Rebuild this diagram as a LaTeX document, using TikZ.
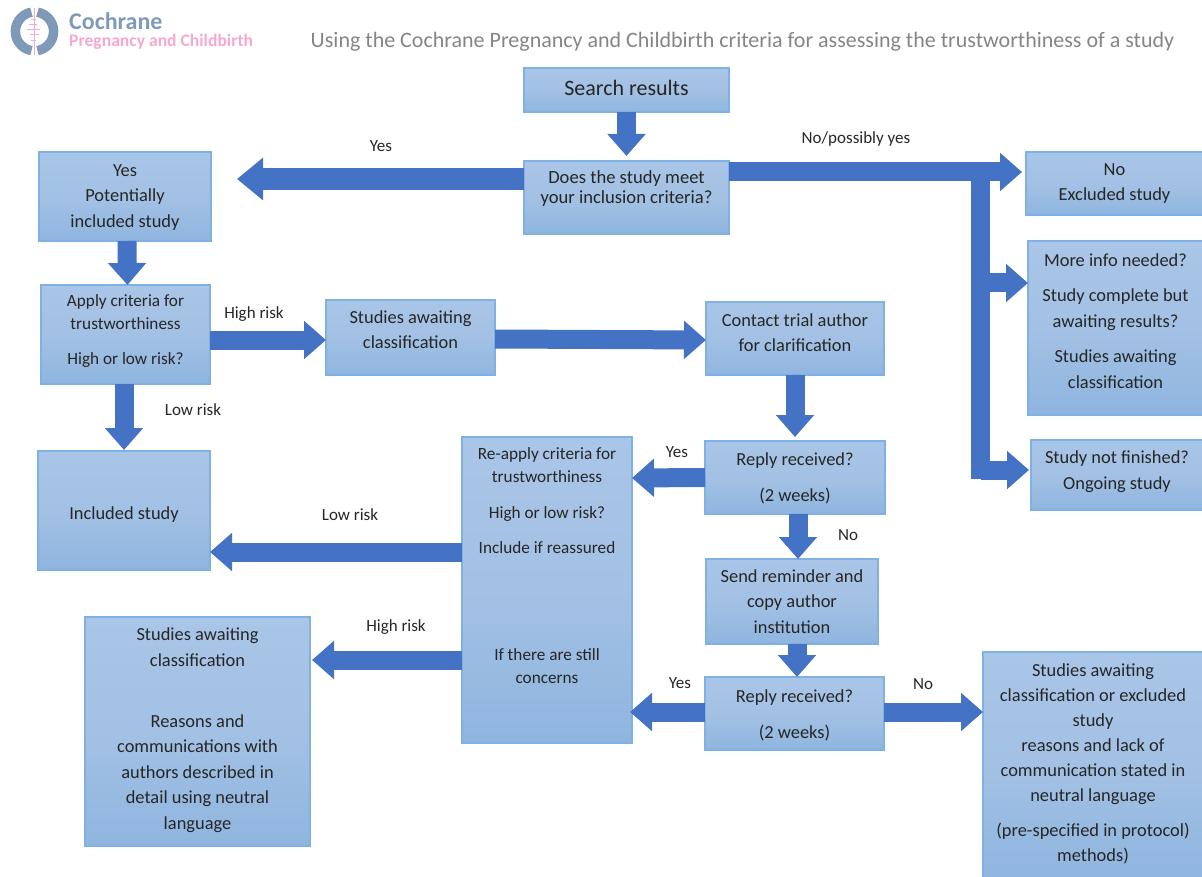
\documentclass[tikz,border=0pt]{standalone}
\usepackage{fontspec}
\setmainfont{Carlito}
\usetikzlibrary{arrows.meta}
\definecolor{fatblue}{HTML}{4472C4}
\definecolor{boxedge}{HTML}{7FB2E3}
\definecolor{boxtop}{HTML}{A9C5E8}
\definecolor{boxmid}{HTML}{A3C1E4}
\definecolor{boxbot}{HTML}{8FB5DF}
\definecolor{logoblue}{HTML}{7F9AB8}
\definecolor{logopink}{HTML}{F7A8CE}
\definecolor{titlegray}{HTML}{858585}
\definecolor{inktext}{HTML}{262626}
\tikzset{
  box/.style={draw=boxedge,line width=1.2pt,top color=boxtop,bottom color=boxbot,middle color=boxmid,
    inner sep=0pt,outer sep=0pt},
  txt/.style={inner sep=0pt,outer sep=0pt,align=center,text=inktext,font=\fontsize{18.4}{25.5}\selectfont},
  txtsmall/.style={txt,font=\fontsize{17.2}{23}\selectfont},
  fat/.style={draw=fatblue,line width=19pt,line cap=butt,
    -{Triangle[length=22pt,width=37pt,fill=fatblue]}},
  tag/.style={inner sep=0pt,text=inktext,font=\fontsize{17}{18}\selectfont},
}
\begin{document}
\begin{tikzpicture}[x=1pt,y=-1pt]
\useasboundingbox (0,0) rectangle (1202,877);
% logo
\draw[logoblue,line width=9.5pt] (37.5,12.2) arc (-80:80:19.5);
\draw[logoblue,line width=9.5pt] (31.5,12.2) arc (-100:-260:19.5);
\draw[logopink,line width=1.6pt] (34.5,8) -- (34.5,55);
\draw[logopink,line width=1pt] (27,30) -- (40,30) (29,25) -- (37,25) (30,35) -- (39,35) (31,41) -- (36,41) (31,20) -- (36,20);
\node[inner sep=0pt,anchor=west,text=logoblue,font=\fontsize{24}{26}\selectfont\bfseries] (logoa) at (69,21) {Cochrane};
\node[inner sep=0pt,anchor=west,text=logopink,font=\fontsize{17.6}{20}\selectfont\bfseries] (logob) at (69,42) {Pregnancy and Childbirth};
\node[inner sep=0pt,text=titlegray,font=\fontsize{22}{24}\selectfont] (title) at (742.5,42) {Using the Cochrane Pregnancy and Childbirth criteria for assessing the trustworthiness of a study};
% boxes
\node[box,minimum width=205pt,minimum height=44pt,label={[txt,font=\fontsize{22}{24}\selectfont,yshift=2.5pt]center:Search results}] (search) at (626.5,90) {};
\node[box,minimum width=205pt,minimum height=73pt,label={[txt,font=\fontsize{18.6}{20}\selectfont,yshift=8.5pt]center:{Does the study meet\\your inclusion criteria?}}] (does) at (626.5,197.5) {};
\node[box,minimum width=172pt,minimum height=89pt,label={[txt,yshift=-1pt]center:{Yes\\Potentially\\included study}}] (yes) at (125,196.5) {};
\node[box,minimum width=169pt,minimum height=99pt,label={[txtsmall,yshift=3pt]center:{Apply criteria for\\trustworthiness\\[12pt]High or low risk?}}] (apply) at (125.5,334.5) {};
\node[box,minimum width=169pt,minimum height=75pt,label={[txt,yshift=8pt]center:{Studies awaiting\\classification}}] (await) at (410.5,337.5) {};
\node[box,minimum width=178pt,minimum height=73pt,label={[txt,yshift=6pt]center:{Contact trial author\\for clarification}}] (contact) at (795,338.5) {};
\node[box,minimum width=172pt,minimum height=119pt,label={[txt,yshift=-4pt]center:Included study}] (incl) at (124,510.5) {};
\node[box,minimum width=170pt,minimum height=306pt,label={[txtsmall,yshift=24.5pt]center:{Re-apply criteria for\\trustworthiness\\[12.5pt]High or low risk?\\[12pt]Include if reassured\\[84pt]If there are still\\concerns}}] (reapply) at (547,590) {};
\node[box,minimum width=180pt,minimum height=73pt,label={[txt,yshift=-1pt]center:{Reply received?\\[10.5pt](2 weeks)}}] (replya) at (795,477.5) {};
\node[box,minimum width=172pt,minimum height=85pt,label={[txt]center:{Send reminder and\\copy author\\institution}}] (remind) at (792,601.5) {};
\node[box,minimum width=179pt,minimum height=73pt,label={[txt,yshift=-2pt]center:{Reply received?\\[10.5pt](2 weeks)}}] (replyb) at (794.5,713.5) {};
\node[box,minimum width=225pt,minimum height=229pt,label={[txt,yshift=1.5pt]center:{Studies awaiting\\classification\\[35.5pt]Reasons and\\communications with\\authors described in\\detail using neutral\\language}}] (awaitb) at (197.5,731.5) {};
\node[box,minimum width=220pt,minimum height=226pt,label={[txt,font=\fontsize{18.4}{25}\selectfont,yshift=1.5pt]center:{Studies awaiting\\classification or excluded\\study\\reasons and lack of\\communication stated in\\neutral language\\[10pt](pre-specified in protocol)\\methods)}}] (last) at (1093,765) {};
\node[box,minimum width=177pt,minimum height=63pt,label={[txt]center:{No\\Excluded study}}] (excl) at (1114.5,183.5) {};
\node[box,minimum width=175pt,minimum height=174pt,label={[txt,yshift=7pt]center:{More info needed?\\[10pt]Study complete but\\awaiting results?\\[10pt]Studies awaiting\\classification}}] (more) at (1115.5,328) {};
\node[box,minimum width=172pt,minimum height=70pt,label={[txt,yshift=3.5pt]center:{Study not finished?\\Ongoing study}}] (unfin) at (1117,475) {};
% free ends and junctions of the connectors
\coordinate (tyes) at (237,179);
\coordinate (tno) at (1022,172);
\coordinate (tapply) at (124,450);
\coordinate (trea) at (632,478);
\coordinate (tincl) at (210,552);
\coordinate (tawb) at (312,660);
\coordinate (treb) at (630,712);
\coordinate (barup) at (980.5,181);
\coordinate (bardn) at (980.5,479);
\coordinate (tmore) at (1028,283);
\coordinate (tunfin) at (1029,470);
% connectors
\draw[fat] (search.south) -- ([yshift=5pt]does.north);
\draw[fat,line width=22pt,-{Triangle[length=26pt,width=41pt,fill=fatblue]}] (does.west |- tyes) -- (tyes);
\draw[fat] (does.east |- tno) -- (tno);
\draw[draw=fatblue,line width=19pt] (barup) -- (bardn);
\draw[fat] (barup |- tmore) -- (tmore);
\draw[fat] (barup |- tunfin) -- (tunfin);
\draw[fat] ([xshift=2pt]yes.south) -- ([xshift=2pt]apply.north);
\draw[fat] ([yshift=-2.5pt]apply.east |- await) -- ([yshift=-2.5pt]await.west);
\draw[fat] ([yshift=-1.5pt]await.east) -- ([yshift=-1.5pt]contact.west);
\draw[fat] (apply.south -| tapply) -- (tapply);
\draw[fat] (contact.south) -- ([yshift=4pt]replya.north);
\draw[fat] (replya.west) -- (trea);
\draw[fat] (reapply.west |- tincl) -- (tincl);
\draw[fat] (reapply.west |- tawb) -- (tawb);
\draw[fat] ([xshift=3pt]replya.south) -- ([xshift=6pt]remind.north);
\draw[fat] ([xshift=5pt]remind.south) -- ([xshift=2.5pt]replyb.north);
\draw[fat] (replyb.west |- treb) -- (treb);
\draw[fat] (replyb.east |- treb) -- (last.west |- treb);
% labels
\node[tag] (l1) at (381,146) {Yes};
\node[tag] (l2) at (856,139) {No/possibly yes};
\node[tag] (l3) at (254,314) {High risk};
\node[tag] (l4) at (193,410) {Low risk};
\node[tag] (l5) at (677,452) {Yes};
\node[tag] (l6) at (848,535) {No};
\node[tag] (l7) at (350,515) {Low risk};
\node[tag] (l8) at (396,627) {High risk};
\node[tag] (l9) at (680,683) {Yes};
\node[tag] (l10) at (923,684) {No};
\end{tikzpicture}
\end{document}
